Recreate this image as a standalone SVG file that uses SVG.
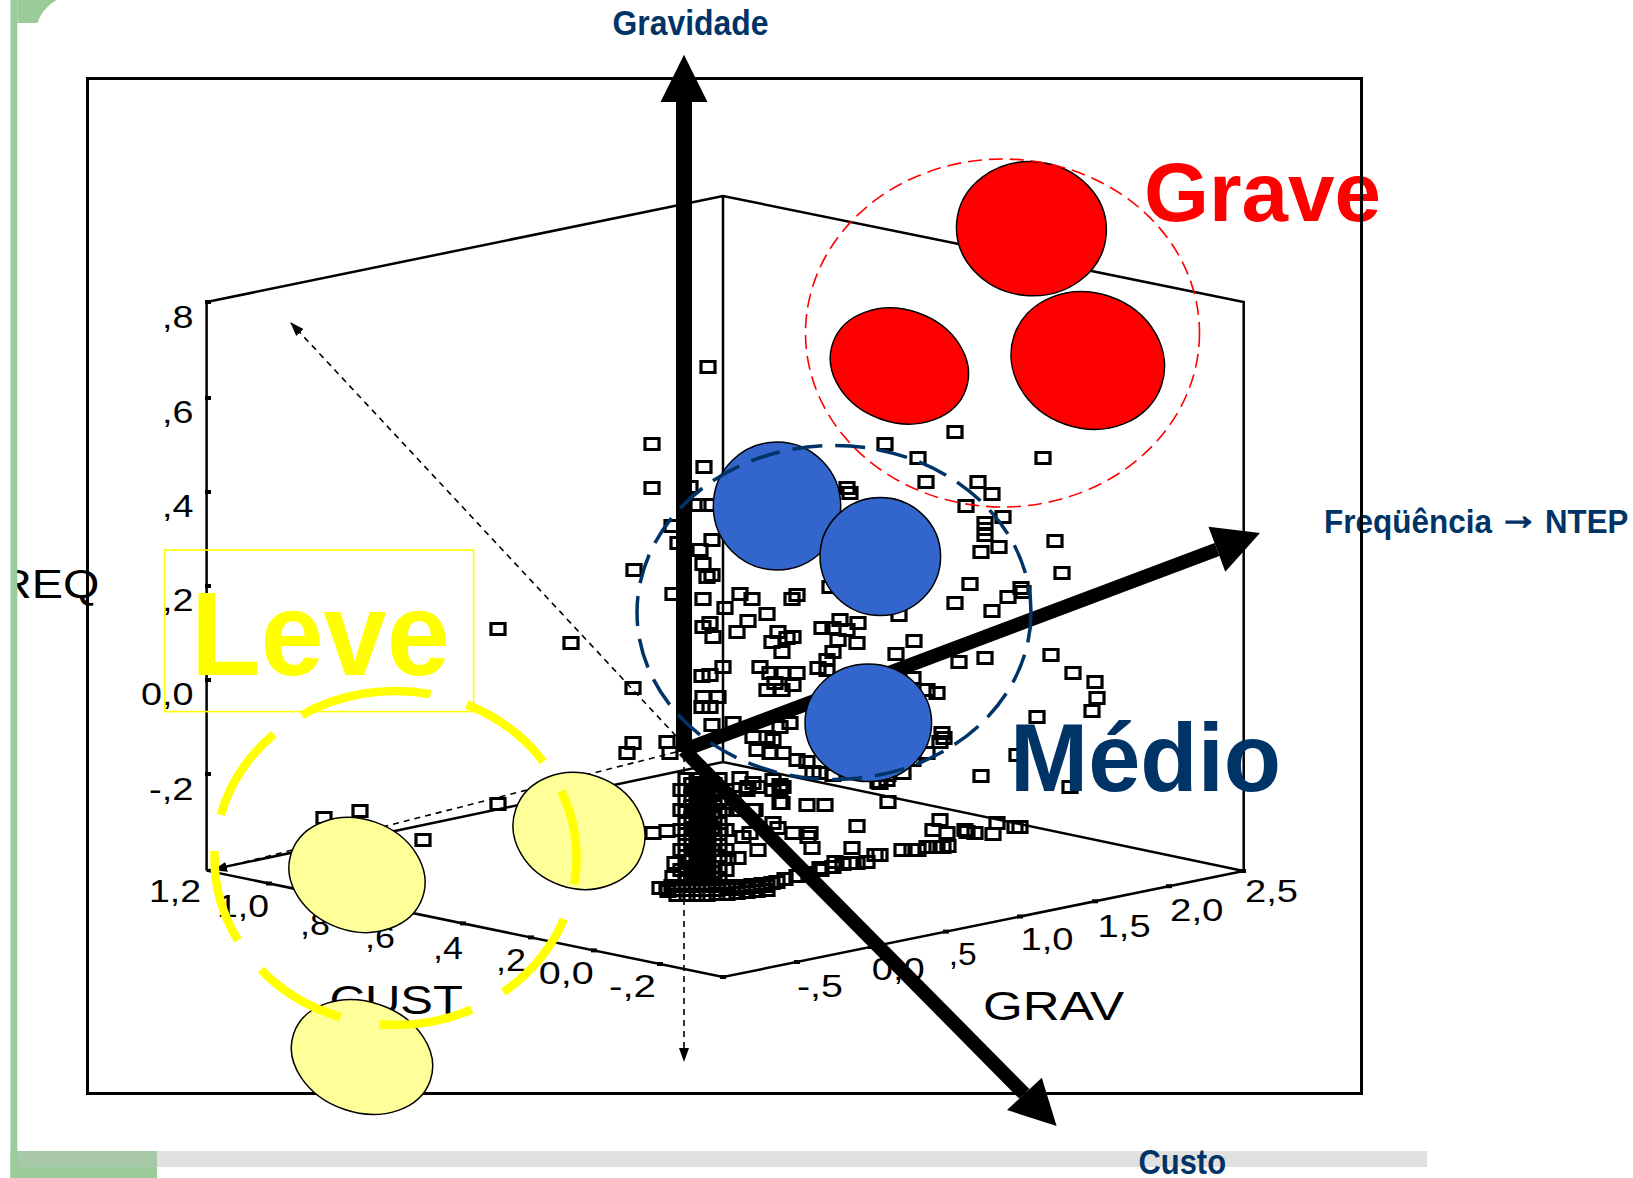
<svg xmlns="http://www.w3.org/2000/svg" width="1633" height="1178" viewBox="0 0 1633 1178">
<style>
.ax{fill:none;stroke:#000;stroke-width:2.5}
.tk{font-family:"Liberation Sans",Arial,sans-serif;font-size:31px;fill:#000}
.tt{font-family:"Liberation Sans",Arial,sans-serif;font-size:41px;fill:#000}
.lb{font-family:"Liberation Sans",Arial,sans-serif;font-weight:bold;fill:#003366}
.dsh{fill:none;stroke:#000;stroke-width:1.6;stroke-dasharray:6 5}
.thick{stroke:#000;stroke-width:14;fill:none}
.red{fill:#ff0000;stroke:#000;stroke-width:1.5}
.blue{fill:#3366cc;stroke:#000;stroke-width:1.5}
.yel{fill:#ffff99;stroke:#000;stroke-width:1.5}
</style>
<defs>
<marker id="dh" viewBox="0 0 14 10" refX="13" refY="5" markerWidth="14" markerHeight="10" markerUnits="userSpaceOnUse" orient="auto"><path d="M0 0L14 5L0 10z" fill="#000"/></marker>
<clipPath id="clipL"><rect x="17.3" y="0" width="1616" height="1178"/></clipPath>
</defs>
<rect width="1633" height="1178" fill="#fff"/>
<g id="frame-decor">
<rect x="10.5" y="0" width="6.8" height="1178" fill="#99cc99"/>
<path d="M17.3 0H56.5C47 6 40 14 37.7 23H17.3Z" fill="#99cc99"/>
<rect x="10.5" y="1151" width="146.5" height="27" fill="#99cc99"/>
<rect x="17.3" y="1151" width="139.7" height="16" fill="#a9c7a9"/>
<rect x="157" y="1151" width="1270" height="16" fill="#e0e0e0"/>
</g>
<g id="plot-box">
<path class="ax" d="M206.6 870.6V302L723 196L1243.7 302V871M723 196V762M206.6 870.6L723 762L1243.7 871M206.6 870.6L723 977L1243.7 871"/>
<g fill="#000">
<rect x="205" y="300" width="6" height="4"/><rect x="205" y="396" width="6" height="4"/><rect x="205" y="490" width="6" height="4"/><rect x="205" y="584" width="6" height="4"/><rect x="205" y="678" width="6" height="4"/><rect x="205" y="772" width="6" height="4"/>
<rect x="266" y="881.5" width="6" height="4"/><rect x="331" y="894.8" width="6" height="4"/><rect x="395" y="908" width="6" height="4"/><rect x="460" y="921.4" width="6" height="4"/><rect x="528" y="935.4" width="6" height="4"/><rect x="591" y="948.4" width="6" height="4"/><rect x="657" y="962" width="6" height="4"/><rect x="720" y="975" width="6" height="4"/>
<rect x="794" y="960" width="6" height="4"/><rect x="868" y="945" width="6" height="4"/><rect x="943" y="929.6" width="6" height="4"/><rect x="1017" y="914.5" width="6" height="4"/><rect x="1092" y="899.3" width="6" height="4"/><rect x="1166" y="884.2" width="6" height="4"/><rect x="1240" y="869" width="6" height="4"/>
</g>
</g>
<g id="tick-labels">
<text class="tk" x="162" y="328" textLength="31.5" lengthAdjust="spacingAndGlyphs">,8</text>
<text class="tk" x="162" y="423" textLength="31.5" lengthAdjust="spacingAndGlyphs">,6</text>
<text class="tk" x="162" y="517" textLength="31.5" lengthAdjust="spacingAndGlyphs">,4</text>
<text class="tk" x="162" y="611" textLength="31.5" lengthAdjust="spacingAndGlyphs">,2</text>
<text class="tk" x="141" y="705" textLength="52.5" lengthAdjust="spacingAndGlyphs">0,0</text>
<text class="tk" x="149" y="800" textLength="44.5" lengthAdjust="spacingAndGlyphs">-,2</text>
<text class="tk" x="149" y="902" textLength="52" lengthAdjust="spacingAndGlyphs">1,2</text>
<text class="tk" x="217" y="917" textLength="52" lengthAdjust="spacingAndGlyphs">1,0</text>
<text class="tk" x="300" y="935" textLength="30" lengthAdjust="spacingAndGlyphs">,8</text>
<text class="tk" x="365" y="948" textLength="30" lengthAdjust="spacingAndGlyphs">,6</text>
<text class="tk" x="433" y="959" textLength="30" lengthAdjust="spacingAndGlyphs">,4</text>
<text class="tk" x="496" y="971" textLength="30" lengthAdjust="spacingAndGlyphs">,2</text>
<text class="tk" x="538.7" y="984" textLength="55" lengthAdjust="spacingAndGlyphs">0,0</text>
<text class="tk" x="609" y="997" textLength="47" lengthAdjust="spacingAndGlyphs">-,2</text>
<text class="tk" x="797" y="997" textLength="46" lengthAdjust="spacingAndGlyphs">-,5</text>
<text class="tk" x="871.7" y="980" textLength="53" lengthAdjust="spacingAndGlyphs">0,0</text>
<text class="tk" x="948.8" y="965" textLength="28" lengthAdjust="spacingAndGlyphs">,5</text>
<text class="tk" x="1020.5" y="950" textLength="53" lengthAdjust="spacingAndGlyphs">1,0</text>
<text class="tk" x="1097.6" y="936.5" textLength="53" lengthAdjust="spacingAndGlyphs">1,5</text>
<text class="tk" x="1170" y="921" textLength="53.5" lengthAdjust="spacingAndGlyphs">2,0</text>
<text class="tk" x="1245" y="902" textLength="53" lengthAdjust="spacingAndGlyphs">2,5</text>
<g clip-path="url(#clipL)"><text class="tt" x="-2" y="598" textLength="101.4" lengthAdjust="spacingAndGlyphs">REQ</text></g>
<text class="tt" x="329.5" y="1014" textLength="133.5" lengthAdjust="spacingAndGlyphs">CUST</text>
<text class="tt" x="983" y="1020" textLength="141" lengthAdjust="spacingAndGlyphs">GRAV</text>
</g>
<g id="points">
<path transform="translate(-7,-5.5)" fill="none" stroke="#000" stroke-width="3.2" d="M708 367h14v11h-14zM652 444h14v11h-14zM652 488h14v11h-14zM704 467h14v11h-14zM690 487h14v11h-14zM698 505h14v11h-14zM708 505h14v11h-14zM672 526h14v11h-14zM678 543h14v11h-14zM712 540h14v11h-14zM700 550h14v11h-14zM703 564h14v11h-14zM707 577h14v11h-14zM712 575h14v11h-14zM634 570h14v11h-14zM847 488h14v11h-14zM830 587h14v11h-14zM955 432h14v11h-14zM885 444h14v11h-14zM918 458h14v11h-14zM926 482h14v11h-14zM978 482h14v11h-14zM992 494h14v11h-14zM966 506h14v11h-14zM1003 517h14v11h-14zM1043 458h14v11h-14zM985 523h14v11h-14zM985 529h14v11h-14zM985 535h14v11h-14zM981 552h14v11h-14zM999 547h14v11h-14zM1055 541h14v11h-14zM1062 573h14v11h-14zM970 584h14v11h-14zM1021 588h14v11h-14zM850 493h14v11h-14zM955 603h14v11h-14zM1008 597h14v11h-14zM1023 592h14v11h-14zM992 611h14v11h-14zM899 615h14v11h-14zM858 623h14v11h-14zM857 643h14v11h-14zM914 641h14v11h-14zM896 654h14v11h-14zM959 662h14v11h-14zM985 658h14v11h-14zM1051 655h14v11h-14zM1073 673h14v11h-14zM1095 682h14v11h-14zM1097 698h14v11h-14zM1092 711h14v11h-14zM1037 717h14v11h-14zM913 678h14v11h-14zM927 690h14v11h-14zM937 693h14v11h-14zM942 733h14v11h-14zM944 738h14v11h-14zM927 753h14v11h-14zM913 760h14v11h-14zM903 773h14v11h-14zM878 782h14v11h-14zM887 780h14v11h-14zM981 776h14v11h-14zM1017 755h14v11h-14zM1070 787h14v11h-14zM888 802h14v11h-14zM857 826h14v11h-14zM940 820h14v11h-14zM933 830h14v11h-14zM947 833h14v11h-14zM965 830h14v11h-14zM975 833h14v11h-14zM997 823h14v11h-14zM1015 827h14v11h-14zM1020 827h14v11h-14zM852 848h14v11h-14zM875 855h14v11h-14zM880 855h14v11h-14zM902 850h14v11h-14zM912 850h14v11h-14zM918 850h14v11h-14zM927 847h14v11h-14zM937 847h14v11h-14zM943 847h14v11h-14zM948 846h14v11h-14zM850 863h14v11h-14zM857 863h14v11h-14zM867 862h14v11h-14zM967 832h14v11h-14zM993 834h14v11h-14zM888 775h14v11h-14zM880 783h14v11h-14zM940 742h14v11h-14zM673 594h14v11h-14zM703 599h14v11h-14zM725 608h14v11h-14zM752 599h14v11h-14zM740 594h14v11h-14zM792 599h14v11h-14zM797 595h14v11h-14zM767 614h14v11h-14zM748 621h14v11h-14zM737 632h14v11h-14zM710 623h14v11h-14zM713 637h14v11h-14zM703 627h14v11h-14zM778 632h14v11h-14zM787 638h14v11h-14zM793 637h14v11h-14zM772 642h14v11h-14zM782 652h14v11h-14zM822 628h14v11h-14zM833 628h14v11h-14zM840 620h14v11h-14zM847 630h14v11h-14zM838 640h14v11h-14zM833 652h14v11h-14zM827 660h14v11h-14zM818 668h14v11h-14zM827 670h14v11h-14zM723 667h14v11h-14zM710 675h14v11h-14zM702 676h14v11h-14zM760 667h14v11h-14zM770 673h14v11h-14zM782 673h14v11h-14zM797 673h14v11h-14zM775 683h14v11h-14zM767 690h14v11h-14zM782 690h14v11h-14zM793 685h14v11h-14zM633 688h14v11h-14zM718 697h14v11h-14zM703 697h14v11h-14zM710 707h14v11h-14zM702 707h14v11h-14zM712 725h14v11h-14zM733 723h14v11h-14zM753 737h14v11h-14zM767 737h14v11h-14zM780 727h14v11h-14zM790 723h14v11h-14zM773 740h14v11h-14zM667 742h14v11h-14zM633 743h14v11h-14zM627 753h14v11h-14zM670 753h14v11h-14zM757 750h14v11h-14zM770 753h14v11h-14zM783 753h14v11h-14zM797 760h14v11h-14zM807 762h14v11h-14zM813 772h14v11h-14zM820 773h14v11h-14zM833 775h14v11h-14zM740 778h14v11h-14zM753 783h14v11h-14zM773 780h14v11h-14zM783 787h14v11h-14zM747 790h14v11h-14zM773 790h14v11h-14zM695 790h14v11h-14zM700 783h14v11h-14zM698 803h14v11h-14zM697 817h14v11h-14zM700 830h14v11h-14zM710 823h14v11h-14zM720 830h14v11h-14zM782 803h14v11h-14zM807 805h14v11h-14zM825 805h14v11h-14zM753 810h14v11h-14zM773 823h14v11h-14zM737 810h14v11h-14zM667 831h14v11h-14zM653 833h14v11h-14zM723 803h14v11h-14zM733 797h14v11h-14zM717 790h14v11h-14zM793 833h14v11h-14zM810 833h14v11h-14zM750 833h14v11h-14zM675 863h14v11h-14zM673 877h14v11h-14zM667 888h14v11h-14zM660 888h14v11h-14zM728 858h14v11h-14zM738 858h14v11h-14zM743 837h14v11h-14zM758 850h14v11h-14zM755 810h14v11h-14zM780 803h14v11h-14zM808 837h14v11h-14zM812 848h14v11h-14zM748 787h14v11h-14zM758 787h14v11h-14zM780 785h14v11h-14zM780 790h14v11h-14zM778 828h14v11h-14zM820 868h14v11h-14zM835 862h14v11h-14zM692 784h14v11h-14zM703 784h14v11h-14zM714 784h14v11h-14zM692 795h14v11h-14zM703 795h14v11h-14zM714 795h14v11h-14zM692 806h14v11h-14zM703 806h14v11h-14zM714 806h14v11h-14zM692 817h14v11h-14zM703 817h14v11h-14zM714 817h14v11h-14zM692 828h14v11h-14zM703 828h14v11h-14zM714 828h14v11h-14zM692 839h14v11h-14zM703 839h14v11h-14zM714 839h14v11h-14zM692 850h14v11h-14zM703 850h14v11h-14zM714 850h14v11h-14zM692 861h14v11h-14zM703 861h14v11h-14zM714 861h14v11h-14zM692 872h14v11h-14zM703 872h14v11h-14zM714 872h14v11h-14zM686 779h14v11h-14zM697 779h14v11h-14zM708 779h14v11h-14zM719 779h14v11h-14zM686 790h14v11h-14zM697 790h14v11h-14zM708 790h14v11h-14zM719 790h14v11h-14zM686 801h14v11h-14zM697 801h14v11h-14zM708 801h14v11h-14zM719 801h14v11h-14zM686 812h14v11h-14zM697 812h14v11h-14zM708 812h14v11h-14zM719 812h14v11h-14zM686 823h14v11h-14zM697 823h14v11h-14zM708 823h14v11h-14zM719 823h14v11h-14zM686 834h14v11h-14zM697 834h14v11h-14zM708 834h14v11h-14zM719 834h14v11h-14zM686 845h14v11h-14zM697 845h14v11h-14zM708 845h14v11h-14zM719 845h14v11h-14zM686 856h14v11h-14zM697 856h14v11h-14zM708 856h14v11h-14zM719 856h14v11h-14zM686 867h14v11h-14zM697 867h14v11h-14zM708 867h14v11h-14zM719 867h14v11h-14zM686 878h14v11h-14zM697 878h14v11h-14zM708 878h14v11h-14zM719 878h14v11h-14zM681 790h14v11h-14zM681 810h14v11h-14zM681 830h14v11h-14zM681 850h14v11h-14zM681 870h14v11h-14zM726 790h14v11h-14zM726 810h14v11h-14zM726 830h14v11h-14zM726 850h14v11h-14zM726 870h14v11h-14zM672 886h14v11h-14zM682 886h14v11h-14zM692 886h14v11h-14zM702 886h14v11h-14zM712 886h14v11h-14zM722 886h14v11h-14zM732 886h14v11h-14zM742 886h14v11h-14zM752 885h14v11h-14zM762 884h14v11h-14zM772 883h14v11h-14zM677 895h14v11h-14zM687 895h14v11h-14zM697 895h14v11h-14zM707 895h14v11h-14zM717 894h14v11h-14zM727 894h14v11h-14zM737 893h14v11h-14zM747 892h14v11h-14zM757 891h14v11h-14zM767 890h14v11h-14zM668 891h14v11h-14zM677 890h14v11h-14zM687 890h14v11h-14zM697 890h14v11h-14zM707 890h14v11h-14zM717 890h14v11h-14zM727 889h14v11h-14zM737 889h14v11h-14zM747 888h14v11h-14zM757 887h14v11h-14zM767 886h14v11h-14zM777 882h14v11h-14zM785 879h14v11h-14zM797 876h14v11h-14zM809 873h14v11h-14zM821 870h14v11h-14zM833 867h14v11h-14zM843 864h14v11h-14zM498 629h14v11h-14zM571 643h14v11h-14zM324 818h14v11h-14zM360 811h14v11h-14zM423 840h14v11h-14zM498 804h14v11h-14z"/>
</g>
<g id="labels">
<text class="lb" x="1010" y="791" font-size="96" textLength="271" lengthAdjust="spacingAndGlyphs">Médio</text>
<text class="lb" x="1144" y="221" font-size="84" style="fill:#ff0000" textLength="237" lengthAdjust="spacingAndGlyphs">Grave</text>
<text class="lb" transform="translate(1324 532.5) scale(0.926 1)" font-size="34">Freqüência</text>
<text class="lb" x="1498" y="529" font-size="41" font-family="'DejaVu Sans',sans-serif" stroke="#003366" stroke-width="1.6">→</text>
<text class="lb" transform="translate(1545 532.5) scale(0.92 1)" font-size="34">NTEP</text>
<text class="lb" x="612.5" y="35" font-size="35" textLength="156" lengthAdjust="spacingAndGlyphs">Gravidade</text>
<text class="lb" x="1138.5" y="1174" font-size="35" textLength="87.5" lengthAdjust="spacingAndGlyphs">Custo</text>
</g>
<rect id="outer-frame" x="87.5" y="78.5" width="1274" height="1015" fill="none" stroke="#000" stroke-width="3"/>
<g id="connectors">
<line class="dsh" x1="676" y1="736" x2="291" y2="323" marker-end="url(#dh)"/>
<line class="dsh" x1="676" y1="752" x2="214" y2="870" marker-end="url(#dh)"/>
<line class="dsh" x1="684" y1="756" x2="684" y2="1061" marker-end="url(#dh)"/>
<rect x="676" y="100" width="16" height="652" fill="#000"/>
<path d="M660.5 102L707.5 102L684 54.7Z" fill="#000"/>
<line class="thick" x1="684" y1="750" x2="1217" y2="549.5"/>
<path d="M1260 533L1208.5 526.7L1225.3 571.7Z" fill="#000"/>
<line class="thick" x1="684" y1="750" x2="1024.4" y2="1093.9"/>
<path d="M1056.6 1126L1007 1110L1041.8 1077.7Z" fill="#000"/>
</g>
<g id="grave-nodes">
<ellipse class="red" cx="1031.4" cy="228.7" rx="75" ry="67" transform="rotate(5 1031.4 228.7)"/>
<ellipse class="red" cx="899.4" cy="366" rx="70.4" ry="56.3" transform="rotate(19 899.4 366)"/>
<ellipse class="red" cx="1087.8" cy="360.5" rx="77.8" ry="67.7" transform="rotate(19 1087.8 360.5)"/>
</g>
<g id="medio-nodes">
<ellipse class="blue" cx="777" cy="506" rx="63.7" ry="64"/>
<ellipse class="blue" cx="880.3" cy="556.6" rx="60.3" ry="59"/>
<ellipse class="blue" cx="868.3" cy="722.8" rx="63.3" ry="58.8"/>
</g>
<g id="leve-nodes">
<ellipse class="yel" cx="357" cy="875" rx="69.3" ry="55.9" transform="rotate(19 357 875)"/>
<ellipse class="yel" cx="579" cy="831" rx="66.9" ry="57.4" transform="rotate(19 579 831)"/>
<ellipse class="yel" cx="362" cy="1057" rx="72.2" ry="55.3" transform="rotate(19 362 1057)"/>
</g>
<g id="groups">
<ellipse cx="1002.5" cy="333" rx="197" ry="174" fill="none" stroke="#ff0000" stroke-width="1.6" stroke-dasharray="14 7"/>
<ellipse cx="834" cy="612.5" rx="197" ry="167" fill="none" stroke="#003366" stroke-width="3.5" stroke-dasharray="30 13"/>
<path fill="none" stroke="#ffff00" stroke-width="8.5" d="M561.4 791.1A181 167 0 0 1 574.3 884.1M563.9 919.2A181 167 0 0 1 503.4 992.1M471.7 1009.5A181 167 0 0 1 379.4 1024.3M340.5 1017.1A181 167 0 0 1 261 969.7M238 940.2A181 167 0 0 1 214.7 851M220.7 814.8A181 167 0 0 1 273.9 734.3M301.7 715.1A181 167 0 0 1 430.6 694.2M466.8 704.5A181 167 0 0 1 543.3 761.5"/>
</g>
<g id="leve-label">
<rect x="164.6" y="550" width="309" height="161.6" fill="none" stroke="#ffff00" stroke-width="1.6"/>
<text x="191" y="675" font-family="'Liberation Sans',Arial,sans-serif" font-weight="bold" font-size="118" fill="#ffff00" textLength="259" lengthAdjust="spacingAndGlyphs">Leve</text>
</g>
</svg>
